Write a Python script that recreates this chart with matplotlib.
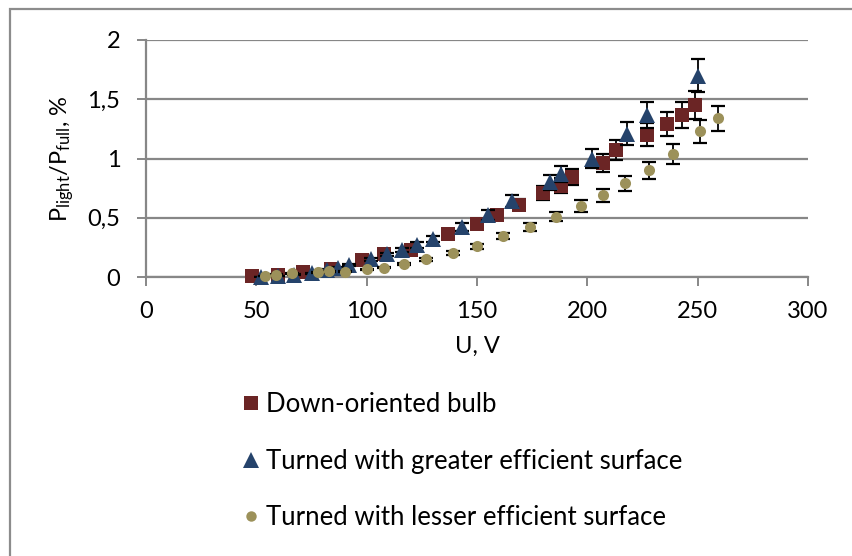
import matplotlib
matplotlib.use("Agg")
import matplotlib.pyplot as plt
from matplotlib.lines import Line2D
from matplotlib.patches import Rectangle

plt.rcParams['font.family'] = ['Lato', 'DejaVu Sans']
plt.rcParams['mathtext.fontset'] = 'custom'
plt.rcParams['mathtext.rm'] = 'Lato'
plt.rcParams['mathtext.it'] = 'Lato:italic'

# ---- data ----
u_down = [48, 60, 71, 84, 98, 108, 120, 137, 150, 159, 169, 180, 188, 193, 207, 213, 227, 236, 243, 249]
p_down = [0.01, 0.02, 0.04, 0.07, 0.14, 0.19, 0.23, 0.36, 0.45, 0.52, 0.61, 0.71, 0.77, 0.84, 0.96, 1.07, 1.20, 1.29, 1.37, 1.45]

u_greater = [52, 60, 67, 75, 82, 87, 92, 102, 109, 116, 123, 130, 143, 155, 166, 183, 188, 202, 218, 227, 250]
p_greater = [0.00, 0.01, 0.02, 0.03, 0.06, 0.08, 0.10, 0.15, 0.19, 0.23, 0.27, 0.32, 0.42, 0.52, 0.64, 0.80, 0.87, 1.00, 1.21, 1.37, 1.70]

u_lesser = [54, 59, 66, 78, 83, 90, 100, 108, 117, 127, 139, 150, 162, 174, 186, 197, 207, 217, 228, 239, 251, 259]
p_lesser = [0.01, 0.02, 0.03, 0.04, 0.05, 0.045, 0.065, 0.08, 0.11, 0.15, 0.205, 0.26, 0.345, 0.42, 0.51, 0.60, 0.69, 0.79, 0.90, 1.04, 1.23, 1.34]

err_fraction = 0.08  # percentage error bars (8 %)

x_ticks = [0, 50, 100, 150, 200, 250, 300]
y_ticks = [0, 0.5, 1, 1.5, 2]
y_tick_labels = ['0', '0,5', '1', '1,5', '2']

labels = ['Down-oriented bulb', 'Turned with greater efficient surface', 'Turned with lesser efficient surface']

# ---- style ----
c_down = '#6B2525'
c_greater = '#25436B'
c_lesser = '#9C915A'
grid_c = '#878787'
fs = 17
fs_leg = 18.5

W, H = 852, 556
fig = plt.figure(figsize=(W / 100, H / 100), dpi=100)
ax = fig.add_axes([146 / W, 1 - 277 / H, (808 - 146) / W, (277 - 40) / H])

series = [
    (u_down, p_down, 's', c_down, 10.5),
    (u_greater, p_greater, '^', c_greater, 11),
    (u_lesser, p_lesser, 'o', c_lesser, 8),
]
for i, (u, p, m, c, ms) in enumerate(series):
    yerr = [err_fraction * v for v in p]
    ax.errorbar(u, p, yerr=yerr, fmt='none', ecolor='black', elinewidth=1.3,
                capsize=5, capthick=1.6, zorder=3 + 2 * i)
    ax.plot(u, p, linestyle='none', marker=m, color=c, markersize=ms,
            markeredgewidth=0, zorder=4 + 2 * i, clip_on=False)

ax.set_xlim(0, 300)
ax.set_ylim(0, 2)
ax.set_xticks(x_ticks)
ax.set_xticklabels([str(t) for t in x_ticks])
ax.set_yticks(y_ticks)
ax.set_yticklabels(y_tick_labels)
ax.yaxis.grid(True, color=grid_c, linewidth=1.6)
ax.set_axisbelow(True)
for s in ['top', 'right']:
    ax.spines[s].set_visible(False)
for s in ['left', 'bottom']:
    ax.spines[s].set_color(grid_c)
    ax.spines[s].set_linewidth(1.6)
ax.tick_params(axis='both', colors=grid_c, labelcolor='black', labelsize=fs,
               length=6.5, width=1.4, direction='out')
ax.tick_params(axis='y', pad=12)
ax.tick_params(axis='x', pad=11)

ax.set_xlabel('U, V', fontsize=fs, labelpad=10)
ax.set_ylabel(r'P$_{\mathrm{light}}$/P$_{\mathrm{full}}$, %', fontsize=fs, labelpad=8)

handles = [
    Line2D([], [], linestyle='none', marker='s', color=c_down, markersize=10, markeredgewidth=0),
    Line2D([], [], linestyle='none', marker='^', color=c_greater, markersize=11, markeredgewidth=0),
    Line2D([], [], linestyle='none', marker='o', color=c_lesser, markersize=7.5, markeredgewidth=0),
]
fig.legend(handles, labels, loc='upper left', bbox_to_anchor=(233 / W, 1 - 382 / H),
           frameon=False, fontsize=fs_leg, handlelength=0.6, handletextpad=0.3,
           labelspacing=1.22, borderaxespad=0)

# outer chart frame (partly cut off at right and bottom)
fig.patches.append(Rectangle((10 / W, -0.05), 1.2, 1 - 9 / H + 0.05,
                             transform=fig.transFigure, fill=False,
                             edgecolor='#8C8C8C', linewidth=1.6))

fig.savefig('out.png', dpi=100)
